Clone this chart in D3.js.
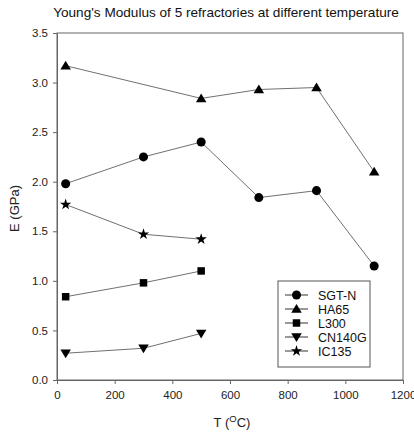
<!DOCTYPE html>
<html>
<head>
<meta charset="utf-8">
<script src="https://cdn.jsdelivr.net/npm/d3@7"></script>
<style>
  body { margin: 0; background: #fff; }
  svg { font-family: "Liberation Sans", Arial, sans-serif; }
</style>
</head>
<body>
<div id="vis1"></div>
<script>
// data
const sgtnT = [30, 300, 500, 700, 900, 1100];
const sgtnE = [1.98, 2.25, 2.40, 1.84, 1.91, 1.15];
const ha65T = [30, 500, 700, 900, 1100];
const ha65E = [3.17, 2.84, 2.93, 2.95, 2.10];
const l300T = [30, 300, 500];
const l300E = [0.84, 0.98, 1.10];
const cn140gT = [30, 300, 500];
const cn140gE = [0.27, 0.32, 0.47];
const ic135T = [30, 300, 500];
const ic135E = [1.77, 1.47, 1.42];
const xTicks = [0, 200, 400, 600, 800, 1000, 1200];
const yTicks = [0, 0.5, 1, 1.5, 2, 2.5, 3, 3.5];

const series = [
  { name: "SGT-N", sym: d3.symbolCircle, size: 64, t: sgtnT, e: sgtnE },
  { name: "HA65", sym: "up", size: 60, t: ha65T, e: ha65E },
  { name: "L300", sym: d3.symbolSquare, size: 56, t: l300T, e: l300E },
  { name: "CN140G", sym: "down", size: 60, t: cn140gT, e: cn140gE },
  { name: "IC135", sym: d3.symbolStar, size: 40, t: ic135T, e: ic135E }
];

const W = 414, H = 435;
const margin = { top: 33, left: 57, right: 11, bottom: 55 };

const svg = d3.select('#vis1')
  .append('svg')
  .attr('width', W)
  .attr('height', H);

const x = d3.scaleLinear().domain([0, 1200]).range([margin.left, W - margin.right]);
const y = d3.scaleLinear().domain([0, 3.5]).range([H - margin.bottom, margin.top]);

// marker path: triangles drawn by hand for point-up / point-down
function markerPath(s) {
  if (s.sym === "up" || s.sym === "down") {
    const r = 5, k = s.sym === "up" ? 1 : -1;
    return `M0,${-r * k}L${r * 1.05},${r * 0.75 * k}L${-r * 1.05},${r * 0.75 * k}Z`;
  }
  return d3.symbol().type(s.sym).size(s.size)();
}

// frame
svg.append("rect")
  .attr("x", margin.left).attr("y", margin.top)
  .attr("width", x(1200) - x(0)).attr("height", y(0) - y(3.5))
  .attr("fill", "none").attr("stroke", "#666").attr("stroke-width", 1);

// axes
const gx = svg.append("g")
  .attr("transform", `translate(0,${y(0)})`)
  .call(d3.axisBottom(x).tickValues(xTicks).tickFormat(d3.format("d")).tickSize(4).tickSizeOuter(0).tickPadding(7));
const gy = svg.append("g")
  .attr("transform", `translate(${x(0)},0)`)
  .call(d3.axisLeft(y).tickValues(yTicks).tickFormat(d3.format(".1f")).tickSize(4).tickSizeOuter(0).tickPadding(5));
[gx, gy].forEach(g => {
  g.select(".domain").attr("stroke", "#666");
  g.selectAll(".tick line").attr("stroke", "#666");
  g.selectAll("text").attr("font-size", 11.5).attr("fill", "#222")
    .attr("font-family", "'Liberation Sans', Arial, sans-serif");
});

// lines + markers
const line = d3.line().x(d => x(d[0])).y(d => y(d[1]));
series.forEach(s => {
  const pts = s.t.map((t, i) => [t, s.e[i]]);
  svg.append("path")
    .attr("d", line(pts))
    .attr("fill", "none").attr("stroke", "#707070").attr("stroke-width", 1);
  svg.append("g").selectAll("path")
    .data(pts)
    .join("path")
      .attr("transform", d => `translate(${x(d[0])},${y(d[1])})`)
      .attr("d", markerPath(s))
      .attr("fill", "#000");
});

// title
svg.append("text")
  .attr("x", 226).attr("y", 17)
  .attr("text-anchor", "middle")
  .attr("font-size", 13.6).attr("fill", "#111")
  .text("Young's Modulus of 5 refractories at different temperature");

// axis labels
svg.append("text")
  .attr("transform", `translate(19,${(y(0) + y(3.5)) / 2 + 2}) rotate(-90)`)
  .attr("text-anchor", "middle")
  .attr("font-size", 13).attr("fill", "#222")
  .text("E (GPa)");

const xl = svg.append("text")
  .attr("x", (x(0) + x(1200)) / 2 + 2).attr("y", 427)
  .attr("text-anchor", "middle")
  .attr("font-size", 13).attr("fill", "#222");
xl.append("tspan").text("T (");
xl.append("tspan").attr("dy", -5).attr("font-size", 9.5).text("O");
xl.append("tspan").attr("dy", 5).text("C)");

// legend
const lg = svg.append("g").attr("transform", "translate(278,281)");
lg.append("rect")
  .attr("width", 92).attr("height", 86)
  .attr("fill", "#fff").attr("stroke", "#555");
const row = lg.selectAll("g.row")
  .data(series)
  .join("g")
    .attr("class", "row")
    .attr("transform", (d, i) => `translate(0,${14 + i * 14})`);
row.append("line")
  .attr("x1", 7).attr("x2", 30)
  .attr("stroke", "#333").attr("stroke-width", 1);
row.append("path")
  .attr("transform", "translate(18.5,0)")
  .attr("d", d => markerPath(d))
  .attr("fill", "#000");
row.append("text")
  .attr("x", 40).attr("y", 4.5)
  .attr("font-size", 12.5).attr("fill", "#111")
  .text(d => d.name);
</script>
</body>
</html>
